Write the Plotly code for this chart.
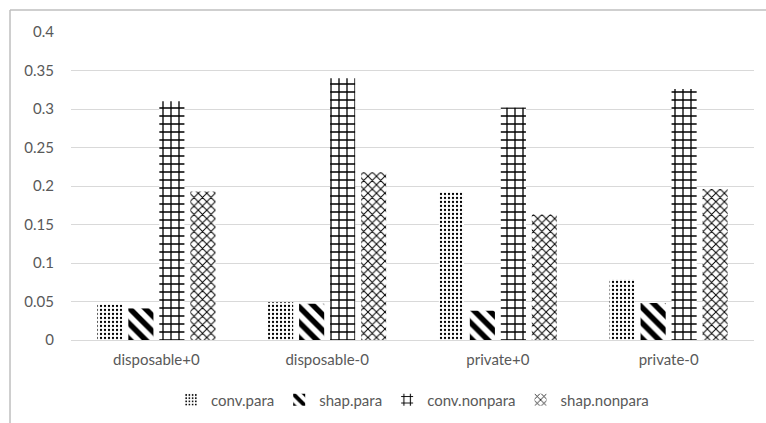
import plotly.graph_objects as go

# Categories and series values
categories = ["disposable+0", "disposable-0", "private+0", "private-0"]
series_names = ["conv.para", "shap.para", "conv.nonpara", "shap.nonpara"]
conv_para = [0.046, 0.049, 0.192, 0.079]
shap_para = [0.041, 0.047, 0.038, 0.048]
conv_nonpara = [0.310, 0.340, 0.302, 0.326]
shap_nonpara = [0.193, 0.218, 0.163, 0.196]
y_ticks = [0, 0.05, 0.1, 0.15, 0.2, 0.25, 0.3, 0.35, 0.4]
y_tick_text = ["0", "0.05", "0.1", "0.15", "0.2", "0.25", "0.3", "0.35", "0.4"]

patterns = [
    dict(shape=".", size=4, solidity=0.25),
    dict(shape="\\", size=11, solidity=0.5),
    dict(shape="+", size=8, solidity=0.3),
    dict(shape="x", size=6, solidity=0.3),
]

fig = go.Figure()
for name, vals, pat in zip(series_names,
                           [conv_para, shap_para, conv_nonpara, shap_nonpara],
                           patterns):
    fig.add_trace(go.Bar(
        x=categories, y=vals, name=name,
        marker=dict(color="white", line=dict(width=0),
                    pattern=dict(fgcolor="black", bgcolor="white",
                                 fillmode="replace", **pat)),
    ))

text_color = "#595959"
font_family = "Lato"
fig.update_layout(
    width=766, height=423,
    margin=dict(l=71, r=12, t=32, b=83, autoexpand=False),
    paper_bgcolor="white", plot_bgcolor="white",
    font=dict(family=font_family, size=15, color=text_color),
    barmode="group", bargap=0.274, bargroupgap=0.19,
    showlegend=True,
    legend=dict(orientation="h", x=0.5, xanchor="center", y=-0.195,
                yanchor="middle", font=dict(size=15, color=text_color),
                itemwidth=30, tracegroupgap=0),
    xaxis=dict(showgrid=False, showline=False, ticks="", automargin=False,
               ticklabelstandoff=9,
               tickfont=dict(size=15, color=text_color)),
    yaxis=dict(range=[0, 0.4], tickvals=y_ticks, ticktext=y_tick_text,
               automargin=False,
               showgrid=True, gridcolor="#d9d9d9", gridwidth=1,
               zeroline=True, zerolinecolor="#d9d9d9", zerolinewidth=1,
               showline=False, ticks="", ticklabelstandoff=16,
               tickfont=dict(size=15, color=text_color)),
)

# Chart frame (top and left edges)
frame = dict(type="line", xref="paper", yref="paper",
             line=dict(color="#bfbfbf", width=1.5))
fig.add_shape(x0=-0.0893, x1=1.02, y0=1.0714, y1=1.0714, **frame)
fig.add_shape(x0=-0.0893, x1=-0.0893, y0=1.0714, y1=-0.28, **frame)

fig.write_html("out.html")
